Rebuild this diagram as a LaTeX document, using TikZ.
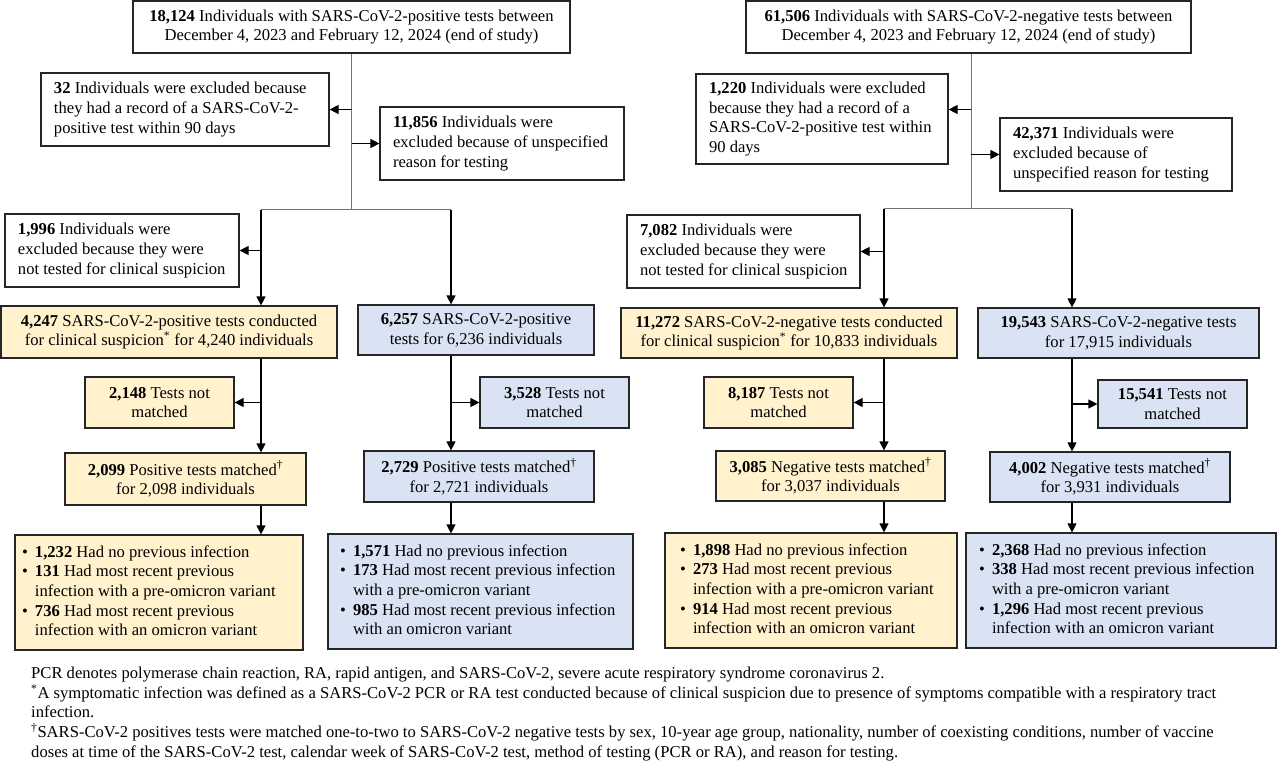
\documentclass[tikz,border=0pt]{standalone}
\usepackage{fontspec}
\setmainfont{Liberation Serif}
\usetikzlibrary{arrows.meta}
\definecolor{yel}{HTML}{FFF2CC}
\definecolor{blu}{HTML}{DAE3F3}
% left-aligned text block of given total width, inset 13pt
\newcommand{\lbox}[2]{\makebox[#1][l]{\hspace{13pt}\begin{tabular}{@{}l@{}}#2\end{tabular}}}
% bullet list block: total width, left inset, rows
\newcommand{\mybul}{\makebox[13pt][l]{\textbullet}}
\newcommand{\blist}[3]{\makebox[#1][l]{\hspace{#2}\begin{tabular}{@{}l@{}l@{}}#3\end{tabular}}}
\begin{document}
\begin{tikzpicture}[x=1pt,y=-1pt,
  font=\fontsize{16.6}{19.6}\selectfont,
  base/.style={draw=black!85, line width=1.2, inner sep=0pt, anchor=center},
  wbox/.style={base, fill=white},
  ybox/.style={base, fill=yel},
  bbox/.style={base, fill=blu},
  gln/.style={line width=1, black!55},
  ln/.style={line width=1.2, black},
  arr/.style={ln, -{Triangle[length=9pt,width=9pt]}},
]
\useasboundingbox (0,0) rectangle (1280,770);
\fill[white] (0,0) rectangle (1280,770);

% ---------------- left half ----------------
\node[wbox, minimum width=437, minimum height=52, align=center] (A) at (351.5,27)
 {\textbf{18,124} Individuals with SARS-CoV-2-positive tests between\\ December 4, 2023 and February 12, 2024 (end of study)};
\node[wbox, minimum width=288, minimum height=73] (B) at (185,109.5)
 {\lbox{288pt}{\textbf{32} Individuals were excluded because\\ they had a record of a SARS-CoV-2-\\ positive test within 90 days}};
\node[wbox, minimum width=244, minimum height=73] (C) at (502,143.5)
 {\lbox{244pt}{\textbf{11,856} Individuals were\\ excluded because of unspecified\\ reason for testing}};
\node[wbox, minimum width=234, minimum height=73] (D) at (122,250.5)
 {\lbox{234pt}{\textbf{1,996} Individuals were\\ excluded because they were\\ not tested for clinical suspicion}};
\node[ybox, minimum width=336, minimum height=52, align=center] (E) at (169,332)
 {\textbf{4,247} SARS-CoV-2-positive tests conducted\\ for clinical suspicion\textsuperscript{*} for 4,240 individuals};
\node[ybox, minimum width=149, minimum height=51, align=center] (F) at (159.5,402.5)
 {\textbf{2,148} Tests not\\ matched};
\node[ybox, minimum width=241, minimum height=52, align=center] (G) at (185.5,479)
 {\textbf{2,099} Positive tests matched\textsuperscript{\textdagger}\\ for 2,098 individuals};
\node[ybox, minimum width=288, minimum height=115] (H) at (159,592.5)
 {\blist{288pt}{7pt}{\mybul & \textbf{1,232} Had no previous infection\\
   \mybul & \textbf{131} Had most recent previous\\ & infection with a pre-omicron variant\\
   \mybul & \textbf{736} Had most recent previous\\ & infection with an omicron variant}};
\node[bbox, minimum width=236, minimum height=50, align=center] (I) at (476,330)
 {\textbf{6,257} SARS-CoV-2-positive\\ tests for 6,236 individuals};
\node[bbox, minimum width=149, minimum height=51, align=center] (J) at (554.5,402.5)
 {\textbf{3,528} Tests not\\ matched};
\node[bbox, minimum width=230, minimum height=51, align=center] (K) at (479,476.5)
 {\textbf{2,729} Positive tests matched\textsuperscript{\textdagger}\\ for 2,721 individuals};
\node[bbox, minimum width=305, minimum height=115] (L) at (480.5,591.5)
 {\blist{305pt}{12pt}{\mybul & \textbf{1,571} Had no previous infection\\
   \mybul & \textbf{173} Had most recent previous infection\\ & with a pre-omicron variant\\
   \mybul & \textbf{985} Had most recent previous infection\\ & with an omicron variant}};

\coordinate (sA) at (351.5,210);
\coordinate (sAL) at (261,210);
\coordinate (sAR) at (451,210);
\draw[gln] (A.south) -- (sA);
\draw[arr] (A.south |- B.east) -- (B.east);
\draw[arr] (A.south |- C.west) -- (C.west);
\draw[gln] (sAL) -- (sAR);
\draw[arr] (sAL) -- (sAL |- E.north);
\draw[arr] (sAL |- D.east) -- (D.east);
\draw[arr] (sAR) -- (sAR |- I.north);
\draw[arr] (sAL |- E.south) -- (sAL |- G.north);
\draw[arr] (sAL |- F.east) -- (F.east);
\draw[arr] (sAL |- G.south) -- (sAL |- H.north);
\draw[arr] (sAR |- I.south) -- (sAR |- K.north);
\draw[arr] (sAR |- J.west) -- (J.west);
\draw[arr] (sAR |- K.south) -- (sAR |- L.north);

% ---------------- right half ----------------
\node[wbox, minimum width=445, minimum height=52, align=center] (M) at (968.5,27)
 {\textbf{61,506} Individuals with SARS-CoV-2-negative tests between\\ December 4, 2023 and February 12, 2024 (end of study)};
\node[wbox, minimum width=252, minimum height=90] (N) at (822,119)
 {\lbox{252pt}{\textbf{1,220} Individuals were excluded\\ because they had a record of a\\ SARS-CoV-2-positive test within\\ 90 days}};
\node[wbox, minimum width=232, minimum height=73] (O) at (1116,154.5)
 {\lbox{232pt}{\textbf{42,371} Individuals were\\ excluded because of\\ unspecified reason for testing}};
\node[wbox, minimum width=233, minimum height=73] (P) at (743.5,251.5)
 {\lbox{233pt}{\textbf{7,082} Individuals were\\ excluded because they were\\ not tested for clinical suspicion}};
\node[ybox, minimum width=336, minimum height=50, align=center] (Q) at (789,333)
 {\textbf{11,272} SARS-CoV-2-negative tests conducted\\ for clinical suspicion\textsuperscript{*} for 10,833 individuals};
\node[ybox, minimum width=149, minimum height=51, align=center] (R) at (778.5,402.5)
 {\textbf{8,187} Tests not\\ matched};
\node[ybox, minimum width=229, minimum height=50, align=center] (S) at (830.5,476)
 {\textbf{3,085} Negative tests matched\textsuperscript{\textdagger}\\ for 3,037 individuals};
\node[ybox, minimum width=292, minimum height=115] (T) at (811,590.5)
 {\blist{292pt}{15pt}{\mybul & \textbf{1,898} Had no previous infection\\
   \mybul & \textbf{273} Had most recent previous\\ & infection with a pre-omicron variant\\
   \mybul & \textbf{914} Had most recent previous\\ & infection with an omicron variant}};
\node[bbox, minimum width=281, minimum height=50, align=center] (U) at (1118.5,333)
 {\textbf{19,543} SARS-CoV-2-negative tests\\ for 17,915 individuals};
\node[bbox, minimum width=149, minimum height=48, align=center] (V) at (1172.5,404)
 {\textbf{15,541} Tests not\\ matched};
\node[bbox, minimum width=240, minimum height=50, align=center] (W) at (1110,477)
 {\textbf{4,002} Negative tests matched\textsuperscript{\textdagger}\\ for 3,931 individuals};
\node[bbox, minimum width=310, minimum height=115] (X) at (1121,590.5)
 {\blist{310pt}{13pt}{\mybul & \textbf{2,368} Had no previous infection\\
   \mybul & \textbf{338} Had most recent previous infection\\ & with a pre-omicron variant\\
   \mybul & \textbf{1,296} Had most recent previous\\ & infection with an omicron variant}};

\coordinate (sM) at (971,209);
\coordinate (sML) at (884,209);
\coordinate (sMR) at (1072,209);
\draw[gln] (M.south -| sM) -- (sM);
\draw[arr] (sM |- B.east) -- (N.east |- B.east);
\draw[arr] (sM |- O.west) -- (O.west);
\draw[gln] (sML) -- (sMR);
\draw[arr] (sML) -- (sML |- Q.north);
\draw[arr] (sML |- P.east) -- (P.east);
\draw[arr] (sMR) -- (sMR |- U.north);
\draw[arr] (sML |- Q.south) -- (sML |- S.north);
\draw[arr] (sML |- R.east) -- (R.east);
\draw[arr] (sML |- S.south) -- (sML |- T.north);
\draw[arr] (sMR |- U.south) -- (sMR |- W.north);
\draw[arr] (sMR |- V.west) -- (V.west);
\draw[arr] (sMR |- W.south) -- (sMR |- X.north);

% ---------------- footnotes ----------------
\node[anchor=north west, inner sep=0pt, align=left, font=\fontsize{16.6}{19.6}\selectfont] (notes) at (31,667)
 {PCR denotes polymerase chain reaction, RA, rapid antigen, and SARS-CoV-2, severe acute respiratory syndrome coronavirus 2.\\
  \textsuperscript{*}A symptomatic infection was defined as a SARS-CoV-2 PCR or RA test conducted because of clinical suspicion due to presence of symptoms compatible with a respiratory tract\\
  infection.\\
  \textsuperscript{\textdagger}SARS-CoV-2 positives tests were matched one-to-two to SARS-CoV-2 negative tests by sex, 10-year age group, nationality, number of coexisting conditions, number of vaccine\\
  doses at time of the SARS-CoV-2 test, calendar week of SARS-CoV-2 test, method of testing (PCR or RA), and reason for testing.};
\end{tikzpicture}
\end{document}
